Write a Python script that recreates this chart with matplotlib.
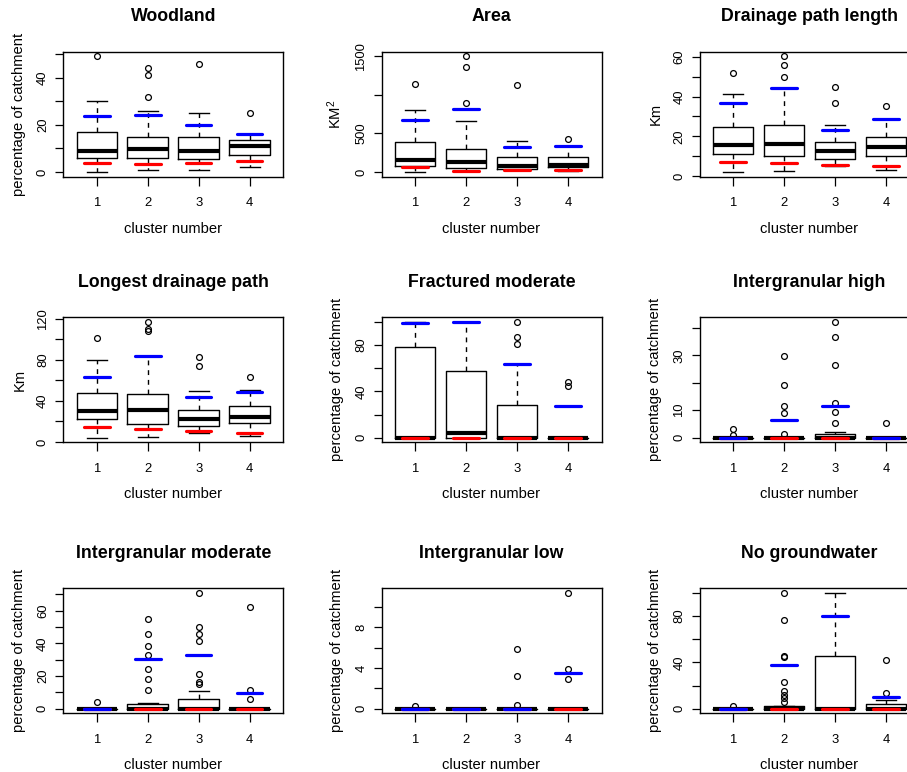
import matplotlib
matplotlib.use("Agg")
import matplotlib.pyplot as plt

# ---------------- data ----------------
clusters = [1, 2, 3, 4]
titles = ["Woodland", "Area", "Drainage path length",
          "Longest drainage path", "Fractured moderate", "Intergranular high",
          "Intergranular moderate", "Intergranular low", "No groundwater"]
ylabels = ["percentage of catchment", "KM$^2$", "Km",
           "Km", "percentage of catchment", "percentage of catchment",
           "percentage of catchment", "percentage of catchment", "percentage of catchment"]
xlabel = "cluster number"

whisker_low = [[0, 1, 1, 2.1], [0, 13, 22, 13], [2, 2.5, 5, 3],
               [4.2, 5.2, 8.8, 6.2], [0, 0, 0, 0], [0, 0, 0, 0],
               [0, 0, 0, 0], [0, 0, 0, 0], [0, 0, 0, 0]]
q1 = [[6.1, 6.1, 5.5, 7.1], [73, 52, 39, 60], [11.1, 9.9, 8.4, 9.9],
      [22, 17.2, 15.9, 18.2], [0, 0, 0, 0], [0, 0, 0, 0],
      [0, 0, 0, 0], [0, 0, 0, 0], [0, 0, 0, 0]]
median = [[8.9, 9.75, 8.9, 11.0], [151, 134, 82, 86], [15.8, 16.3, 12.4, 14.6],
          [30.2, 31.1, 22.7, 24.0], [0, 4.4, 0, 0], [0, 0, 0, 0],
          [0, 0, 0, 0], [0, 0, 0, 0], [0, 0, 0, 0]]
q3 = [[16.8, 15.0, 15.0, 13.4], [389, 298, 190, 199], [24.5, 25.5, 17.1, 19.7],
      [48, 47, 31.1, 35], [78, 57.9, 28.2, 0], [0, 0, 1.2, 0],
      [0, 3.1, 5.7, 0], [0, 0, 0, 0], [0, 2.0, 45.5, 3.7]]
whisker_high = [[30.1, 25.9, 24.9, 16.0], [800, 661, 406, 335], [41.3, 44.4, 25.9, 28.6],
                [79.8, 83.4, 49.6, 50.3], [100, 100, 64, 0], [0, 0, 2.1, 0],
                [0, 3.7, 10.8, 0], [0, 0, 0, 0], [0, 2.5, 100, 7.5]]
p10 = [[3.8, 3.25, 3.8, 4.8], [69, 17, 30, 26], [7.2, 6.6, 5.7, 5.0],
       [14.9, 13, 10.7, 9.1], [0, 0, 0, 0], [0, 0, 0, 0],
       [0, 0, 0, 0], [0, 0, 0, 0], [0, 0, 0, 0]]
p90 = [[23.9, 24.0, 20.1, 16.0], [678, 821, 324, 341], [36.6, 44.5, 23.0, 28.6],
       [62.9, 83.4, 43.8, 49.0], [98.9, 100, 64, 27.6], [0, 6.6, 11.5, 0],
       [0, 30.4, 33.1, 9.4], [0, 0, 0, 3.5], [0, 37.4, 80.3, 10.4]]
outliers = [
    [[49], [44.2, 41.1, 31.9], [45.9], [25]],
    [[1141], [1500, 1366, 895], [1132], [430]],
    [[51.9], [60.3, 55.8, 49.7], [44.9, 36.6], [35.1]],
    [[100.9], [116.8, 109.6, 107.7], [83, 74.3], [62.9]],
    [[], [], [100, 86.7, 80.6], [48, 44.5]],
    [[3.0, 0.9], [29.6, 19.3, 11.7, 8.9, 1.2], [42.2, 36.7, 26.5, 12.8, 9.3, 5.2], [5.2]],
    [[4.1], [54.9, 45.7, 38.6, 33.1, 24.5, 18, 11.6], [70.8, 50.2, 45.5, 41.2, 21, 16.5, 14.9], [62, 11.6, 5.9]],
    [[0.3], [], [5.86, 3.2, 0.33], [11.4, 3.9, 2.9]],
    [[2.0], [100, 77, 45.5, 44.3, 23, 15.5, 12, 9, 5.8], [], [42.3, 13.2]],
]
yticks = [[0, 10, 20, 30, 40, 50], [0, 500, 1000, 1500], [0, 10, 20, 30, 40, 50, 60],
          [0, 20, 40, 60, 80, 100, 120], [0, 20, 40, 60, 80, 100], [0, 10, 20, 30, 40],
          [0, 10, 20, 30, 40, 50, 60, 70], [0, 2, 4, 6, 8, 10], [0, 20, 40, 60, 80, 100]]
ytick_labels = [["0", "", "20", "", "40", ""], ["0", "500", "", "1500"],
                ["0", "", "20", "", "40", "", "60"], ["0", "", "40", "", "80", "", "120"],
                ["0", "", "40", "", "80", ""], ["0", "10", "", "30", ""],
                ["0", "", "20", "", "40", "", "60", ""], ["0", "", "4", "", "8", ""],
                ["0", "", "40", "", "80", ""]]

# ---------------- style / layout ----------------
plt.rcParams["font.family"] = ["Liberation Sans", "DejaVu Sans"]
plt.rcParams["mathtext.default"] = "regular"

W, H = 907, 772
fig = plt.figure(figsize=(W / 100, H / 100), dpi=100)
col_left = [63.3, 381.5, 699.5]
row_top = [51.7, 317.3, 588.3]
AX_W, AX_H = 220.0, 125.0
PX = 72 / 100.0  # points per pixel

for i in range(9):
    r, c = divmod(i, 3)
    left, top = col_left[c], row_top[r]
    ax = fig.add_axes([left / W, 1 - (top + AX_H) / H, AX_W / W, AX_H / H])

    stats = []
    for k in range(4):
        stats.append(dict(med=median[i][k], q1=q1[i][k], q3=q3[i][k],
                          whislo=whisker_low[i][k], whishi=whisker_high[i][k],
                          fliers=outliers[i][k]))
    ax.bxp(stats, positions=clusters, widths=0.8, capwidths=0.4,
           boxprops=dict(color="black", linewidth=1.0),
           whiskerprops=dict(color="black", linewidth=1.0, linestyle=(0, (3.5, 3.5))),
           capprops=dict(color="black", linewidth=1.0),
           medianprops=dict(color="black", linewidth=3.0, solid_capstyle="butt"),
           flierprops=dict(marker="o", markerfacecolor="none", markeredgecolor="black",
                           markersize=4.2, markeredgewidth=0.9, linestyle="none"),
           manage_ticks=False)

    xs = [x - 0.25 for x in clusters]
    xe = [x + 0.25 for x in clusters]
    ax.hlines(p10[i], xs, xe, colors="#ff0000", linewidth=2.3, capstyle="round", zorder=4)
    ax.hlines(p90[i], xs, xe, colors="#0000ff", linewidth=2.3, capstyle="round", zorder=5)

    n = len(clusters)
    ax.set_xlim(0.5 - 0.04 * n, n + 0.5 + 0.04 * n)
    lo_vals = whisker_low[i] + [v for o in outliers[i] for v in o]
    hi_vals = whisker_high[i] + [v for o in outliers[i] for v in o]
    lo, hi = min(lo_vals), max(hi_vals)
    pad = 0.04 * (hi - lo)
    ax.set_ylim(lo - pad, hi + pad)

    ax.set_xticks(clusters)
    ax.set_xticklabels([str(x) for x in clusters], fontsize=9.4)
    ax.set_yticks(yticks[i])
    ax.set_yticklabels(ytick_labels[i], fontsize=9.4, rotation=90, va="center")
    ax.tick_params(axis="x", direction="out", length=8.5 * PX, width=0.9, pad=12 * PX)
    ax.tick_params(axis="y", direction="out", length=8.5 * PX, width=0.9, pad=5.8 * PX)
    for s in ax.spines.values():
        s.set_linewidth(1.0)

    ax.set_title(titles[i], fontsize=12.8, fontweight="bold", pad=30.5 * PX)
    ax.set_xlabel(xlabel, fontsize=10.6)
    ax.xaxis.set_label_coords(0.5, -45 / AX_H)
    ax.set_ylabel(ylabels[i], fontsize=10.6)
    ax.yaxis.set_label_coords(-37 / AX_W, 0.5)

fig.savefig("out.png", dpi=100)
